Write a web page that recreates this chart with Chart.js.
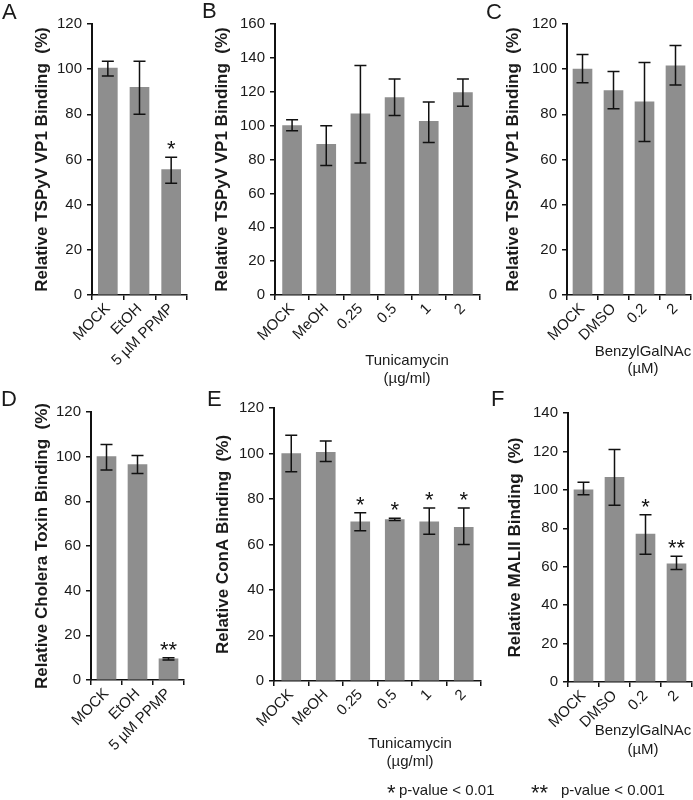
<!DOCTYPE html>
<html lang="en">
<head>
  <meta charset="UTF-8" />
  <title>TSPyV VP1 binding – inhibitor panels</title>
  <script src="https://cdn.jsdelivr.net/npm/chart.js"></script>
  <style>
    body {
      margin: 0;
      background: #fff;
      overflow: hidden;
      font-family: 'Liberation Sans', Arial, sans-serif;
      color: #1a1a1a;
    }
    #fig {
      position: relative;
      width: 693px;
      height: 800px;
    }
    canvas {
      position: absolute;
    }
    .letter {
      position: absolute;
      font-size: 22px;
      line-height: 22px;
    }
    .group {
      position: absolute;
      width: 140px;
      text-align: center;
      font-size: 15px;
      line-height: 18px;
    }
    .key {
      position: absolute;
      font-size: 15px;
      line-height: 20px;
      white-space: nowrap;
    }
    .key .st {
      display: inline-block;
      font-size: 22px;
      vertical-align: -5px;
    }
  </style>
</head>
<body>
  <div id="fig">
    <canvas id="chartA"></canvas>
    <canvas id="chartB"></canvas>
    <canvas id="chartC"></canvas>
    <canvas id="chartD"></canvas>
    <canvas id="chartE"></canvas>
    <canvas id="chartF"></canvas>

    <div class="letter" style="left:2px; top:1px;">A</div>
    <div class="letter" style="left:202px; top:0px;">B</div>
    <div class="letter" style="left:486px; top:1px;">C</div>
    <div class="letter" style="left:1px; top:388px;">D</div>
    <div class="letter" style="left:207px; top:388px;">E</div>
    <div class="letter" style="left:491px; top:388px;">F</div>

    <div class="group" style="left:337px; top:351px;">Tunicamycin<br>(µg/ml)</div>
    <div class="group" style="left:573px; top:342px; line-height:17px;">BenzylGalNAc<br>(µM)</div>
    <div class="group" style="left:340px; top:734px;">Tunicamycin<br>(µg/ml)</div>
    <div class="group" style="left:573px; top:720px; line-height:19px;">BenzylGalNAc<br>(µM)</div>

    <div class="key" style="left:387px; top:780px;"><span class="st" style="width:12px;">*</span>p-value &lt; 0.01</div>
    <div class="key" style="left:531px; top:780px;"><span class="st" style="width:30px;">**</span>p-value &lt; 0.001</div>
  </div>

  <script>
    // categories
    const catsPPMP = ['MOCK', 'EtOH', '5 µM PPMP'];
    const catsTunicamycin = ['MOCK', 'MeOH', '0.25', '0.5', '1', '2'];
    const catsBenzyl = ['MOCK', 'DMSO', '0.2', '2'];

    // A – TSPyV VP1, PPMP
    const valuesA = [100.5, 92, 55.5];
    const lowA = [97, 80, 49.5];
    const highA = [103.5, 103.5, 61];
    const starsA = ['', '', '*'];

    // B – TSPyV VP1, tunicamycin
    const valuesB = [100, 89, 107, 116.5, 102.5, 119.5];
    const lowB = [97, 76.5, 78, 106, 90, 111.5];
    const highB = [103.5, 100, 135.5, 127.5, 114, 127.5];
    const starsB = ['', '', '', '', '', ''];

    // C – TSPyV VP1, benzyl-GalNAc
    const valuesC = [100, 90.5, 85.5, 101.5];
    const lowC = [94, 82.5, 68, 93];
    const highC = [106.5, 99, 103, 110.5];
    const starsC = ['', '', '', ''];

    // D – cholera toxin, PPMP
    const valuesD = [100, 96.5, 9.5];
    const lowD = [94, 92.5, 9];
    const highD = [105.5, 100.5, 10];
    const starsD = ['', '', '**'];

    // E – ConA, tunicamycin
    const valuesE = [100, 100.5, 70, 71, 70, 67.5];
    const lowE = [92, 96.5, 66, 70.5, 64.5, 60];
    const highE = [108, 105.5, 74, 71.5, 76, 76];
    const starsE = ['', '', '*', '*', '*', '*'];

    // F – MALII, benzyl-GalNAc
    const valuesF = [100, 106.5, 77, 61.5];
    const lowF = [97.5, 92, 66.5, 58.5];
    const highF = [104, 121, 87, 65.5];
    const starsF = ['', '', '*', '**'];

    // y axis tops
    const yMaxA = 120, yMaxB = 160, yMaxC = 120, yMaxD = 120, yMaxE = 120, yMaxF = 140;

    const FONT = "'Liberation Sans', Arial, sans-serif";
    const INK = '#1a1a1a';
    const BAR = '#8e8e8e';

    function errorBars(low, high, stars) {
      return {
        id: 'errorBars',
        afterDatasetsDraw(chart) {
          const { ctx, scales: { y } } = chart;
          const meta = chart.getDatasetMeta(0);
          ctx.save();
          ctx.strokeStyle = '#111';
          ctx.fillStyle = '#111';
          ctx.lineWidth = 1.5;
          meta.data.forEach((bar, i) => {
            const top = y.getPixelForValue(high[i]);
            const bot = y.getPixelForValue(low[i]);
            const cx = bar.x;
            ctx.beginPath();
            ctx.moveTo(cx, top);
            ctx.lineTo(cx, bot);
            ctx.moveTo(cx - 6, top);
            ctx.lineTo(cx + 6, top);
            ctx.moveTo(cx - 6, bot);
            ctx.lineTo(cx + 6, bot);
            ctx.stroke();
            if (stars[i]) {
              ctx.font = '22px ' + FONT;
              ctx.textAlign = 'center';
              ctx.textBaseline = 'alphabetic';
              ctx.fillText(stars[i], cx, top - 1);
            }
          });
          ctx.restore();
        }
      };
    }

    // p: canvas box (x, y, w, h) and plot area (l, t, r, b) in page pixels
    function drawPanel(id, p) {
      const canvas = document.getElementById(id);
      canvas.width = p.w;
      canvas.height = p.h;
      canvas.style.left = p.x + 'px';
      canvas.style.top = p.y + 'px';

      new Chart(canvas, {
        type: 'bar',
        data: {
          labels: p.labels,
          datasets: [{
            data: p.values,
            backgroundColor: BAR,
            barThickness: 19
          }]
        },
        options: {
          responsive: false,
          animation: false,
          layout: {
            padding: { top: p.t - p.y, right: p.x + p.w - p.r, left: 0, bottom: 0 }
          },
          plugins: {
            legend: { display: false },
            tooltip: { enabled: false }
          },
          scales: {
            x: {
              grid: { drawOnChartArea: false, color: '#111', lineWidth: 1.5, tickLength: 5 },
              border: { color: '#111', width: 1.5 },
              ticks: {
                color: INK,
                font: { family: FONT, size: 15 },
                minRotation: 45,
                maxRotation: 45,
                padding: 0,
                autoSkip: false
              },
              afterFit(s) { s.height = p.y + p.h - p.b; }
            },
            y: {
              min: 0,
              max: p.yMax,
              ticks: { stepSize: 20, color: INK, font: { family: FONT, size: 15 }, padding: 5 },
              grid: { drawOnChartArea: false, color: '#111', lineWidth: 1.5, tickLength: 5 },
              border: { color: '#111', width: 2 },
              title: {
                display: true,
                text: p.title,
                color: INK,
                font: { family: FONT, size: 17, weight: 'bold' },
                padding: { top: p.titleX - p.x - 10, bottom: 0 }
              },
              afterFit(s) { s.width = p.l - p.x; }
            }
          }
        },
        plugins: [errorBars(p.low, p.high, p.stars)]
      });
    }

    drawPanel('chartA', {
      x: 0, y: 0, w: 190, h: 390, l: 92, t: 24, r: 187, b: 295, titleX: 42,
      labels: catsPPMP, values: valuesA, low: lowA, high: highA, stars: starsA, yMax: yMaxA,
      title: 'Relative TSPyV VP1 Binding  (%)'
    });
    drawPanel('chartB', {
      x: 190, y: 0, w: 295, h: 390, l: 275, t: 24, r: 480, b: 295, titleX: 222,
      labels: catsTunicamycin, values: valuesB, low: lowB, high: highB, stars: starsB, yMax: yMaxB,
      title: 'Relative TSPyV VP1 Binding  (%)'
    });
    drawPanel('chartC', {
      x: 485, y: 0, w: 208, h: 390, l: 567, t: 24, r: 691, b: 295, titleX: 513,
      labels: catsBenzyl, values: valuesC, low: lowC, high: highC, stars: starsC, yMax: yMaxC,
      title: 'Relative TSPyV VP1 Binding  (%)'
    });
    drawPanel('chartD', {
      x: 0, y: 390, w: 190, h: 400, l: 91, t: 412, r: 184, b: 680, titleX: 42,
      labels: catsPPMP, values: valuesD, low: lowD, high: highD, stars: starsD, yMax: yMaxD,
      title: 'Relative Cholera Toxin Binding  (%)'
    });
    drawPanel('chartE', {
      x: 190, y: 390, w: 295, h: 380, l: 274, t: 408, r: 481, b: 681, titleX: 223,
      labels: catsTunicamycin, values: valuesE, low: lowE, high: highE, stars: starsE, yMax: yMaxE,
      title: 'Relative ConA Binding  (%)'
    });
    drawPanel('chartF', {
      x: 485, y: 390, w: 208, h: 380, l: 568, t: 413, r: 692, b: 682, titleX: 515,
      labels: catsBenzyl, values: valuesF, low: lowF, high: highF, stars: starsF, yMax: yMaxF,
      title: 'Relative MALII Binding  (%)'
    });
  </script>
</body>
</html>
